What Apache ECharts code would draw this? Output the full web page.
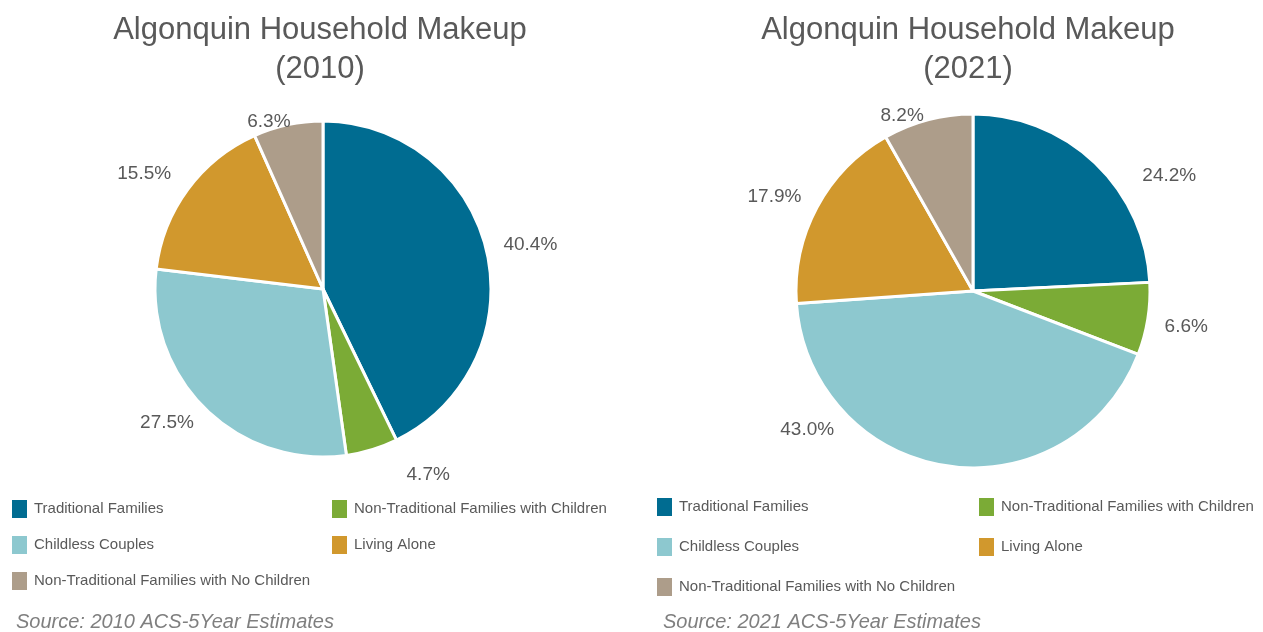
<!DOCTYPE html>
<html>
<head>
<meta charset="utf-8">
<script src="https://cdn.jsdelivr.net/npm/echarts@6/dist/echarts.min.js"></script>
<style>
  html, body { margin: 0; padding: 0; background: #fff; }
  #chart { width: 1263px; height: 632px; }
</style>
</head>
<body>
<div id="chart"></div>
<script>
// household categories, in the order they go round the pie (clockwise from 12 o'clock)
const categories = [
  'Traditional Families',
  'Non-Traditional Families with Children',
  'Childless Couples',
  'Living Alone',
  'Non-Traditional Families with No Children'
]
const values2010 = [40.4, 4.7, 27.5, 15.5, 6.3]
const values2021 = [24.2, 6.6, 43.0, 17.9, 8.2]
const colors = ['#006C91', '#7BAB36', '#8DC8CF', '#D1982D', '#AD9D8A']

// small label nudges (the source chart used "best fit" label placement)
const nudge2010 = [[0, -4], [26, 14], [2, 5], [-2, -8], [10, 9]]
const nudge2021 = [[34, 22], [0, 6], [-106, -48], [0, -5], [4, 8]]

const font = "'Liberation Sans Narrow', 'Arial Narrow', Arial, sans-serif"
const textColor = '#595959'

const chart = echarts.init(document.getElementById('chart'))

function pieSeries(name, values, center, radius, nudge) {
  return {
    name: name,
    type: 'pie',
    center: center,
    radius: radius,
    startAngle: 90,
    clockwise: true,
    avoidLabelOverlap: false,
    itemStyle: {
      borderColor: '#fff',
      borderWidth: 3
    },
    label: {
      show: true,
      position: 'outside',
      formatter: p => p.value.toFixed(1) + '%',
      color: textColor,
      fontFamily: font,
      fontSize: 19
    },
    labelLine: {
      show: false,
      length: 12,
      length2: 0
    },
    labelLayout: p => ({ dx: nudge[p.dataIndex][0], dy: nudge[p.dataIndex][1] }),
    emphasis: { scale: false },
    data: categories.map((c, i) => ({
      name: c,
      value: values[i],
      itemStyle: { color: colors[i] }
    }))
  }
}

function legendCol(left, top, names, gap) {
  return {
    left: left,
    top: top,
    padding: 0,
    orient: 'vertical',
    icon: 'rect',
    itemWidth: 17,
    itemHeight: 20,
    itemGap: gap,
    selectedMode: false,
    data: names,
    textStyle: {
      color: textColor,
      fontFamily: font,
      fontSize: 15,
      padding: [0, 0, 0, 1]
    }
  }
}

const titleStyle = { color: textColor, fontFamily: font, fontSize: 31, fontWeight: 'normal', lineHeight: 39 }
const sourceStyle = { color: '#7f7f7f', fontFamily: font, fontSize: 20, fontWeight: 'normal', fontStyle: 'italic' }

chart.setOption({
  animation: false,
  color: colors,
  title: [
    { text: 'Algonquin Household Makeup\n(2010)', left: 320, top: 11, padding: 0, textAlign: 'center', textStyle: titleStyle },
    { text: 'Algonquin Household Makeup\n(2021)', left: 968, top: 11, padding: 0, textAlign: 'center', textStyle: titleStyle },
    { text: 'Source: 2010 ACS-5Year Estimates', left: 16, top: 612, padding: 0, textStyle: sourceStyle },
    { text: 'Source: 2021 ACS-5Year Estimates', left: 663, top: 612, padding: 0, textStyle: sourceStyle }
  ],
  legend: [
    legendCol(10, 498, [categories[0], categories[2], categories[4]], 14),
    legendCol(330, 498, [categories[1], categories[3]], 14),
    legendCol(655, 496, [categories[0], categories[2], categories[4]], 18),
    legendCol(977, 496, [categories[1], categories[3]], 18)
  ],
  series: [
    pieSeries('2010', values2010, [323, 289], 168, nudge2010),
    pieSeries('2021', values2021, [973, 291], 177, nudge2021)
  ]
})
</script>
</body>
</html>
